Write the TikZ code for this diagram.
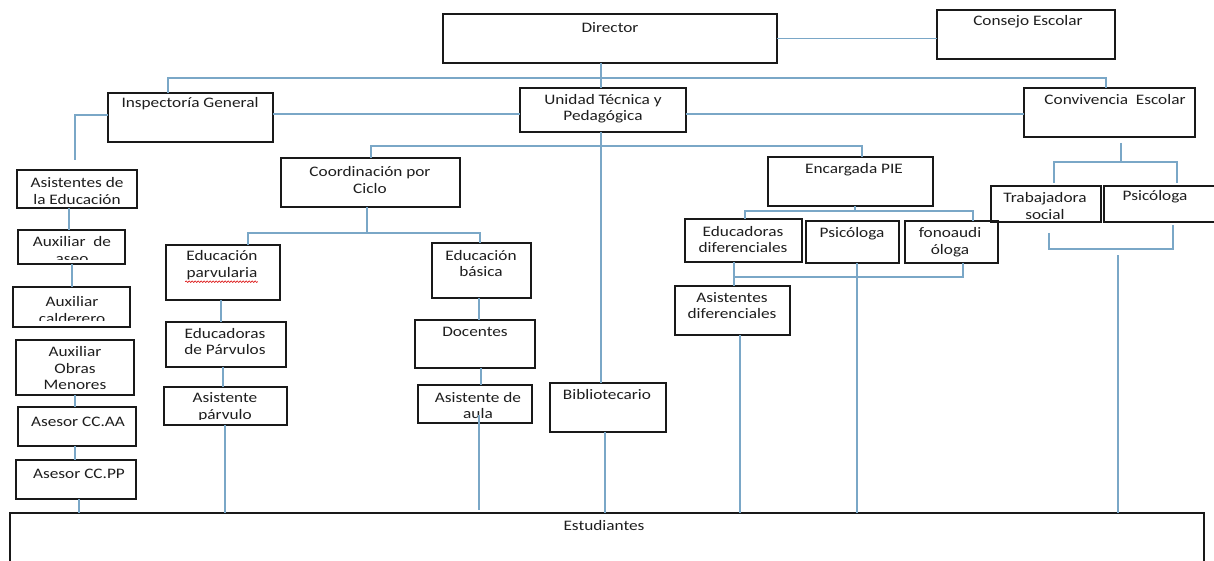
\documentclass[tikz,border=0pt]{standalone}
\usepackage{fontspec}
\setmainfont{Carlito}[FakeStretch=1.19]
\usetikzlibrary{decorations.pathmorphing}
\definecolor{connc}{RGB}{122,167,199}
\definecolor{txtc}{RGB}{30,30,30}
\newcommand\mkbox[5]{\node[box, minimum width={(#4-#2)*1pt}, minimum height={(#5-#3)*1pt}] (#1) at ({(#2+#4)/2},{(#3+#5)/2}) {};}
\tikzset{
  box/.style={draw=black!90, line width=1.1pt, rectangle, inner sep=0pt, outer sep=0pt},
  lnk/.style={draw=connc, line width=1.4pt},
  txt/.style={inner sep=0pt, text=txtc, font=\fontsize{14.5}{16.5}\selectfont, align=center},
}
\begin{document}
\begin{tikzpicture}[x=1pt,y=-1pt]
\useasboundingbox (0,0) rectangle (1214,561);
\fill[white] (0,0) rectangle (1214,561);

% ---- boxes
\mkbox{dir}{443}{14}{777}{63}
\mkbox{cons}{937}{10}{1115}{59}
\mkbox{insp}{108}{93}{273}{142}
\mkbox{uni}{520}{88}{686}{132}
\mkbox{conv}{1024}{88}{1195}{137}
\mkbox{coord}{281}{158}{460}{207}
\mkbox{enc}{768}{157}{933}{206}
\mkbox{asis}{17}{170}{137}{208}
\mkbox{aseo}{18}{230}{125}{264}
\mkbox{cald}{13}{287}{130}{327}
\mkbox{obras}{16}{340}{134}{395}
\mkbox{ccaa}{18}{407}{136}{446}
\mkbox{ccpp}{16}{460}{136}{499}
\mkbox{est}{10}{513}{1204}{566}
\mkbox{eparv}{166}{245}{280}{300}
\mkbox{edpar}{166}{322}{286}{367}
\mkbox{aspar}{164}{387}{287}{425}
\mkbox{ebas}{432}{243}{531}{298}
\mkbox{doc}{415}{320}{535}{368}
\mkbox{aula}{418}{385}{532}{423}
\mkbox{bib}{550}{383}{666}{432}
\mkbox{edif}{685}{219}{802}{262}
\mkbox{psip}{806}{221}{899}{263}
\mkbox{fono}{905}{221}{998}{263}
\mkbox{adif}{675}{286}{790}{335}
\mkbox{trab}{991}{186}{1101}{222}
\mkbox{psic}{1104}{186}{1218}{222}

% ---- texts
\node[txt] (tdir) at (610,28) {Director};
\node[txt] (tcons) at (1028,22) {Consejo Escolar};
\node[txt] (tinsp) at (190,104) {Inspectoría General};
\node[txt] (tuni) at (603,108.5) {Unidad Técnica y\\Pedagógica};
\node[txt] (tconv) at (1115,100) {Convivencia\ \ Escolar};
\node[txt] (tcoord) at (370,180) {Coordinación por\\Ciclo};
\node[txt] (tenc) at (854,170) {Encargada PIE};
\node[txt] (tasis) at (77,191) {Asistentes de\\la Educación};
\begin{scope}
  \clip (aseo.north west) rectangle ([yshift=4.5pt]aseo.south east);
  \node[txt, anchor=base] (taseo1) at (72,246.5) {Auxiliar\ \ de};
  \node[txt, anchor=base] (taseo2) at (72,263) {aseo};
\end{scope}
\begin{scope}
  \clip (cald.north west) rectangle ([yshift=6.5pt]cald.south east);
  \node[txt, anchor=base] (tcald1) at (72,306.5) {Auxiliar};
  \node[txt, anchor=base] (tcald2) at (72,323) {calderero};
\end{scope}
\node[txt] (tobras) at (75,368.5) {Auxiliar\\Obras\\Menores};
\node[txt] (tccaa) at (78,422) {Asesor CC.AA};
\node[txt] (tccpp) at (79,474) {Asesor CC.PP};
\node[txt] (test) at (604,526) {Estudiantes};
\node[txt] (teparv) at (222,265) {Educación\\parvularia};
\draw[red!85!black, line width=0.6pt, decorate, decoration={snake, amplitude=0.8pt, segment length=3pt}] (teparv.south west) ++(-1,2) coordinate (sq1) -- (sq1 -| teparv.south east);
\node[txt] (tedpar) at (225,341.5) {Educadoras\\de Párvulos};
\begin{scope}
  \clip (aspar.north west) rectangle ([yshift=6pt]aspar.south east);
  \node[txt, anchor=base] (taspar1) at (225,402.5) {Asistente};
  \node[txt, anchor=base] (taspar2) at (225,419) {párvulo};
\end{scope}
\node[txt] (tebas) at (481,263.5) {Educación\\básica};
\node[txt] (tdoc) at (475,332) {Docentes};
\node[txt] (taula) at (478,405.5) {Asistente de\\aula};
\node[txt] (tbib) at (607,395) {Bibliotecario};
\node[txt] (tedif) at (743,239.5) {Educadoras\\diferenciales};
\node[txt] (tpsip) at (852,234) {Psicóloga};
\node[txt] (tfono) at (950,242) {fonoaudi\\óloga};
\node[txt] (tadif) at (732,305.5) {Asistentes\\diferenciales};
\node[txt] (ttrab) at (1045,206) {Trabajadora\\social};
\node[txt] (tpsic) at (1155,197) {Psicóloga};

% ---- connectors
\coordinate (b1) at (168,78); \coordinate (b2) at (1106,78);
\draw[lnk] (insp.north -| b1) -- (b1) -- (b2) -- (conv.north -| b2);
\coordinate (v1) at (601,0);
\draw[lnk] (dir.south -| v1) -- (uni.north -| v1);
\draw[lnk] (dir.east) -- (dir.east -| cons.west);
\coordinate (h1) at (0,114);
\draw[lnk] (insp.east |- h1) -- (uni.west |- h1);
\draw[lnk] (uni.east |- h1) -- (conv.west |- h1);
\coordinate (a1) at (75,115); \coordinate (a2) at (75,160);
\draw[lnk] (insp.west |- a1) -- (a1) -- (a2);

\coordinate (c1) at (371,146); \coordinate (c2) at (862,146);
\draw[lnk] (coord.north -| c1) -- (c1) -- (c2) -- (enc.north -| c2);
\draw[lnk] (uni.south -| v1) -- (bib.north -| v1);
\coordinate (v2) at (605,0);
\draw[lnk] (bib.south -| v2) -- (est.north -| v2);

\coordinate (k0) at (1121,143); \coordinate (k1) at (1121,162);
\draw[lnk] (k0) -- (k1);
\coordinate (k2) at (1054,162); \coordinate (k3) at (1177,162);
\coordinate (k2b) at (1054,183); \coordinate (k3b) at (1177,183);
\draw[lnk] (k2b) -- (k2) -- (k3) -- (k3b);
\coordinate (m1) at (1049,233); \coordinate (m2) at (1049,249);
\coordinate (m3) at (1173,249); \coordinate (m4) at (1173,225);
\draw[lnk] (m1) -- (m2) -- (m3) -- (m4);
\coordinate (m5) at (1118,255);
\draw[lnk] (m5) -- (est.north -| m5);

\coordinate (l1) at (69,0);
\draw[lnk] (asis.south -| l1) -- (aseo.north -| l1);
\coordinate (l2) at (72,0);
\draw[lnk] (aseo.south -| l2) -- (cald.north -| l2);
\coordinate (l3) at (75,0);
\draw[lnk] (obras.south -| l3) -- (ccaa.north -| l3);
\draw[lnk] (ccaa.south -| l3) -- (ccpp.north -| l3);
\coordinate (l4) at (79,0);
\draw[lnk] (ccpp.south -| l4) -- (est.north -| l4);

\coordinate (e0) at (367,0); \coordinate (e1) at (248,233); \coordinate (e2) at (480,233);
\draw[lnk] (coord.south -| e0) -- (e0 |- e1);
\draw[lnk] (eparv.north -| e1) -- (e1) -- (e2) -- (ebas.north -| e2);
\coordinate (p1) at (221,0);
\draw[lnk] (eparv.south -| p1) -- (edpar.north -| p1);
\coordinate (p2) at (223,0);
\draw[lnk] (edpar.south -| p2) -- (aspar.north -| p2);
\coordinate (p3) at (225,0);
\draw[lnk] (aspar.south -| p3) -- (est.north -| p3);
\coordinate (q1) at (479,0);
\draw[lnk] (ebas.south -| q1) -- (doc.north -| q1);
\coordinate (q2) at (481,0);
\draw[lnk] (doc.south -| q2) -- (aula.north -| q2);
\coordinate (q3) at (479,415); \coordinate (q4) at (479,510);
\draw[lnk] (q3) -- (q4);

\coordinate (r0) at (855,0); \coordinate (r1) at (745,211); \coordinate (r2) at (973,211);
\draw[lnk] (enc.south -| r0) -- (r0 |- r1);
\draw[lnk] (edif.north -| r1) -- (r1) -- (r2) -- (fono.north -| r2);
\coordinate (s1) at (734,277); \coordinate (s2) at (963,277);
\draw[lnk] (edif.south -| s1) -- (adif.north -| s1);
\draw[lnk] (s1) -- (s2) -- (fono.south -| s2);
\coordinate (t1) at (740,0);
\draw[lnk] (adif.south -| t1) -- (est.north -| t1);
\coordinate (t2) at (857,0);
\draw[lnk] (psip.south -| t2) -- (est.north -| t2);
\end{tikzpicture}
\end{document}
